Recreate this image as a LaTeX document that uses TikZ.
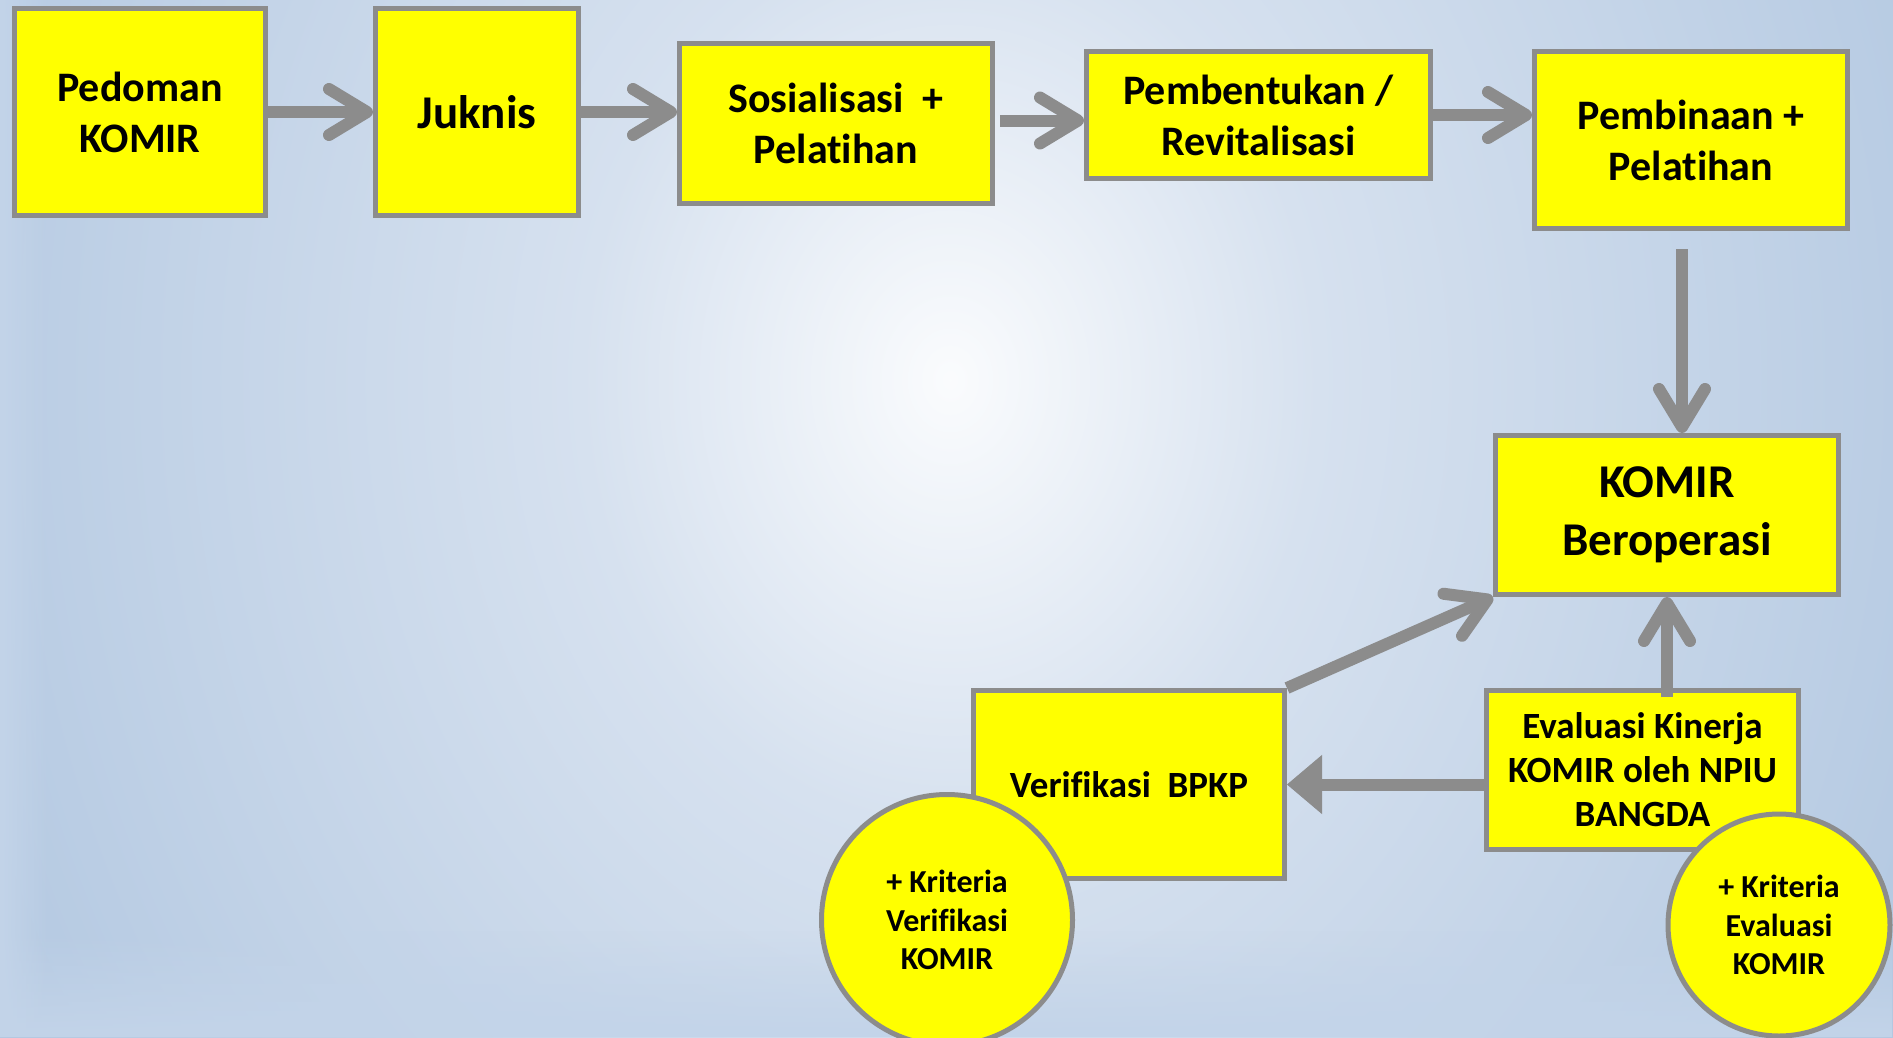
\documentclass[tikz,border=0pt]{standalone}
\usepackage{fontspec}
\setmainfont{Carlito}[Ligatures={NoCommon,NoContextual},RawFeature={-liga;-clig;-calt;-dlig}]
\usetikzlibrary{arrows.meta,calc,fadings}
\definecolor{bgblue}{HTML}{B0C6E0}
\definecolor{bgmid}{HTML}{D6E1EF}
\definecolor{bglight}{HTML}{C3D4E9}
\definecolor{boxgray}{HTML}{8C8C8C}
\definecolor{boxyellow}{HTML}{FFFF00}
\pgfdeclareradialshading{bgshade}{\pgfpoint{0bp}{0bp}}{color(0bp)=(white!94!bgblue); color(8bp)=(bgmid); color(25bp)=(bgblue); color(50bp)=(bgblue)}
\begin{document}
\begin{tikzpicture}[x=1pt,y=-1pt,
  box/.style={draw=boxgray, line width=5pt, fill=boxyellow, inner sep=0pt, align=center, text=black,
    font=\bfseries\fontsize{42}{51}\selectfont},
  disc/.style={circle, draw=boxgray, line width=5pt, fill=boxyellow, inner sep=0pt, align=center, text=black,
    font=\bfseries\fontsize{32}{38.6}\selectfont},
  barb/.style={draw=boxgray, line width=12pt, -{Straight Barb[length=38pt,width=46pt,round]}},
  tri/.style={draw=boxgray, line width=12pt, -{Triangle[length=35pt,width=59pt,line width=1pt]}}
]
\useasboundingbox (0,0) rectangle (1893,1037);
\begin{scope}
\clip (0,0) rectangle (1893,1037);
\fill[bgblue] (0,0) rectangle (1893,1037);
\shade[shading=bgshade] (950,380) ellipse (1150 and 1400);
\fill[bglight, path fading=north] (0,930) rectangle (1893,1037);
\fill[bglight, path fading=east] (0,0) rectangle (50,1037);
\end{scope}

% boxes
\node[box, minimum width=251pt, minimum height=207pt] (p) at (140,112) {Pedoman\\KOMIR};
\node[box, minimum width=203pt, minimum height=207pt, font=\bfseries\fontsize{47}{56}\selectfont] (j) at (477,112) {Juknis};
\node[box, minimum width=313pt, minimum height=160pt] (s) at (836,123.5) {Sosialisasi~~+\\Pelatihan};
\node[box, minimum width=344pt, minimum height=127pt] (b4) at (1258.5,115) {Pembentukan /\\Revitalisasi};
\node[box, minimum width=313pt, minimum height=177pt] (b5) at (1691,140) {Pembinaan +\\Pelatihan};
\node[box, minimum width=343pt, minimum height=159pt, font=\bfseries\fontsize{47}{58}\selectfont] (k) at (1667,515) {KOMIR\\Beroperasi};
\node[box, minimum width=311pt, minimum height=188pt, font=\bfseries\fontsize{37}{44}\selectfont] (v) at (1129,784.5) {Verifikasi~~BPKP};
\node[box, minimum width=312pt, minimum height=159pt, font=\bfseries\fontsize{37}{44}\selectfont] (e) at (1642.5,770) {Evaluasi Kinerja\\KOMIR oleh NPIU\\BANGDA};

% connectors
\draw[barb] (p.east) -- (j.west);
\draw[barb] (j.east) -- (j.east -| s.west);
\coordinate (a3) at ($(s.east)+(5,-3)$);
\draw[barb] (a3) -- (a3 -| b4.west);
\draw[barb] (b4.east) -- (b4.east -| b5.west);
\coordinate (d1) at ($(b5.south)+(-9,18)$);
\draw[barb] (d1) -- (d1 |- k.north);
\draw[barb] (v.north east) -- (k.south west);
\coordinate (u1) at ($(e.north -| k.south)+(0,9)$);
\draw[barb] (u1) -- (k.south);
\draw[tri] (e.west |- v.east) -- (v.east);

% discs
\node[disc, minimum size=251pt] (c1) at (947,920) {+ Kriteria\\Verifikasi\\KOMIR};
\node[disc, minimum size=222pt] (c2) at (1779,925) {+ Kriteria\\Evaluasi\\KOMIR};
\end{tikzpicture}
\end{document}
